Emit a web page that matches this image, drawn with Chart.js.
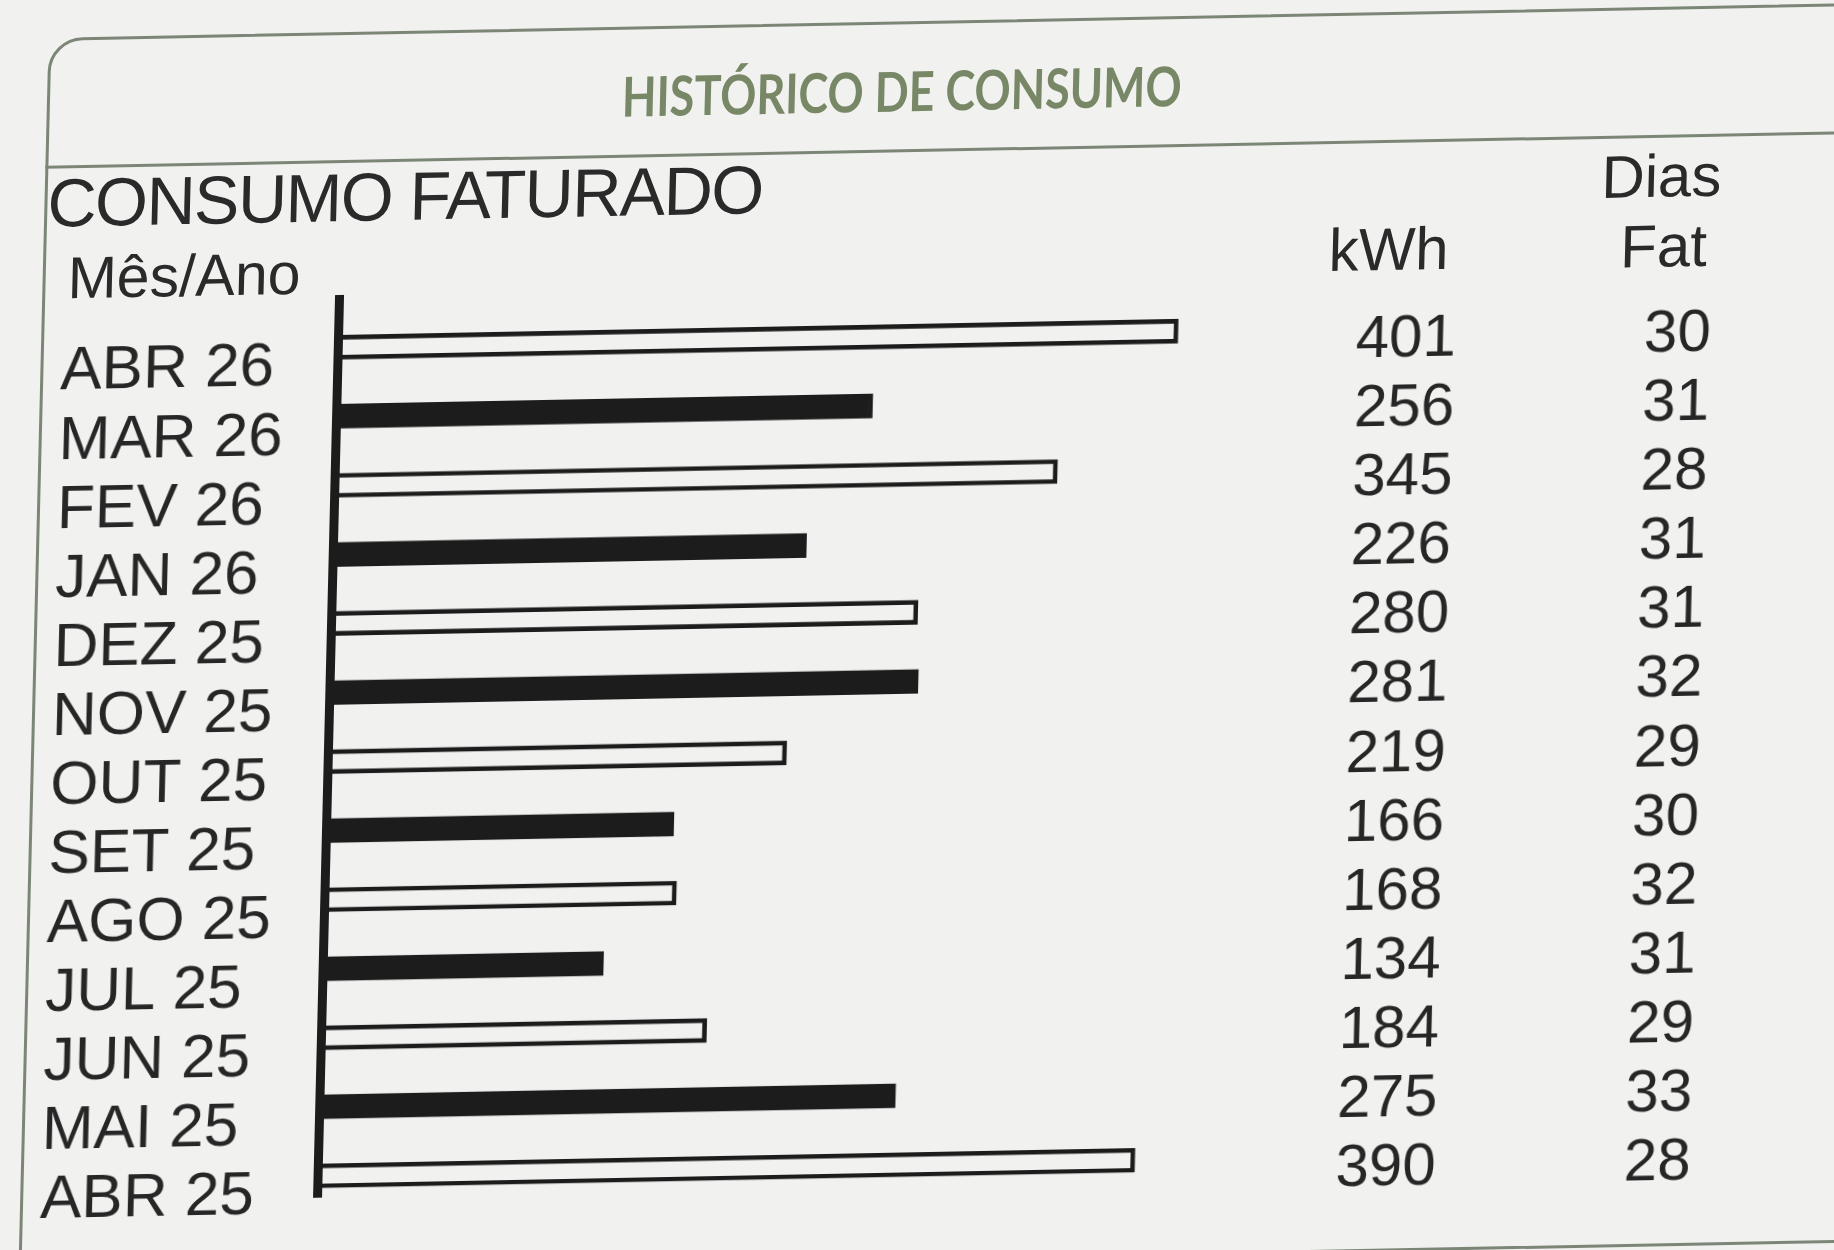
<!DOCTYPE html>
<html lang="pt-BR">
<head>
<meta charset="utf-8">
<title>Histórico de Consumo</title>
<script src="https://cdn.jsdelivr.net/npm/chart.js@4.4.1/dist/chart.umd.min.js"></script>
<style>
  html, body { margin: 0; padding: 0; background: #f1f1ef; }
  body { width: 1834px; height: 1250px; position: relative; overflow: hidden;
         font-family: "Liberation Sans", Arial, sans-serif; color: #2a2a2a; }
  /* the bill was photographed a little askew */
  #page { position: absolute; left: 0; top: 0; width: 1834px; height: 1250px;
          transform-origin: 0 0; transform: matrix(1, -0.0192, -0.0244, 1, 17.1, 15.4); }
  .frame { position: absolute; left: 32px; top: 23px; width: 1900px; height: 1240px;
           border: 3px solid #7b8677; border-radius: 34px 0 0 0; box-sizing: border-box; }
  .rule { position: absolute; left: 32px; top: 151px; width: 1900px; height: 3px; background: #7b8677; }
  .txt { position: absolute; line-height: 1; white-space: nowrap; }
  #titulo { left: 887px; top: 65px; font-family: Lato, "Open Sans", sans-serif; font-weight: 700;
            font-size: 55px; color: #788866; transform-origin: center; }
  #chartBox { position: absolute; left: 0; top: 0; width: 1834px; height: 1250px; }
</style>
</head>
<body>
<div id="page">
  <div class="frame"></div>
  <div class="rule"></div>
  <div class="txt" id="titulo">HISTÓRICO DE CONSUMO</div>
  <div class="txt" style="left:35px; top:154px; font-size:68px; letter-spacing:-1.5px;">CONSUMO FATURADO</div>
  <div class="txt" style="left:57px; top:235px; font-size:59px;">Mês/Ano</div>
  <div class="txt" style="left:1378px; top:231px; font-size:60px; transform:translateX(-50%);">kWh</div>
  <div class="txt" style="left:1649px; top:163px; font-size:60px; transform:translateX(-50%);">Dias</div>
  <div class="txt" style="left:1653px; top:233px; font-size:60px; transform:translateX(-50%);">Fat</div>
  <div id="chartBox"><canvas id="consumoChart" width="1834" height="1250"></canvas></div>
</div>

<script>
const meses = ['ABR 26', 'MAR 26', 'FEV 26', 'JAN 26', 'DEZ 25', 'NOV 25', 'OUT 25',
               'SET 25', 'AGO 25', 'JUL 25', 'JUN 25', 'MAI 25', 'ABR 25'];
const consumoKwh = [401, 256, 345, 226, 280, 281, 219, 166, 168, 134, 184, 275, 390];
const diasFaturados = [30, 31, 28, 31, 31, 32, 29, 30, 32, 31, 29, 33, 28];

document.addEventListener('DOMContentLoaded', function () {
    // squeeze the bold title to the narrow width used on the bill
    const titulo = document.getElementById('titulo');
    titulo.style.transform = 'translateX(-50%) scaleX(' + (560 / titulo.offsetWidth) + ')';

    const fonte = "'Liberation Sans', Arial, sans-serif";
    const tinta = '#1c1c1c';

    // column of plain numbers beside the bars
    function coluna(valores, largura) {
        return {
            type: 'category',
            position: 'right',
            labels: valores.map(String),
            offset: true,
            grid: { display: false, drawTicks: false },
            border: { display: false },
            ticks: {
                autoSkip: false,
                crossAlign: 'far',
                labelOffset: 27,
                padding: 0,
                color: '#262626',
                font: { family: fonte, size: 60, lineHeight: 1 }
            },
            afterFit: s => { s.width = largura; }
        };
    }

    const ctx = document.getElementById('consumoChart').getContext('2d');
    new Chart(ctx, {
        type: 'bar',
        data: {
            labels: meses,
            datasets: [{
                label: 'kWh',
                data: consumoKwh,
                backgroundColor: c => c.dataIndex % 2 ? tinta : 'rgba(0,0,0,0)',
                borderColor: tinta,
                borderWidth: 4,
                barThickness: 24
            }]
        },
        options: {
            indexAxis: 'y',
            responsive: false,
            animation: false,
            devicePixelRatio: 1,
            layout: {
                padding: { left: 52, top: 290, right: 131.5, bottom: 62 }
            },
            scales: {
                x: { display: false, min: 0, max: 480 },
                y: {
                    position: 'left',
                    z: 1,
                    grid: { display: false, drawTicks: false },
                    border: { display: true, width: 9, color: tinta },
                    ticks: {
                        autoSkip: false,
                        crossAlign: 'far',
                        labelOffset: 20,
                        padding: 0,
                        color: '#262626',
                        font: { family: fonte, size: 62, lineHeight: 1 }
                    },
                    // the axis line runs a bit higher than the first bar on the bill
                    afterDataLimits: s => { s.min = -0.2; },
                    afterBuildTicks: s => { s.ticks = meses.map((m, i) => ({ value: i })); },
                    afterFit: s => { s.width = 277; }
                },
                kwh: coluna(consumoKwh, 112.5),
                dias: coluna(diasFaturados, 255)
            },
            plugins: {
                legend: { display: false },
                tooltip: { enabled: false }
            }
        }
    });
});
</script>
</body>
</html>
